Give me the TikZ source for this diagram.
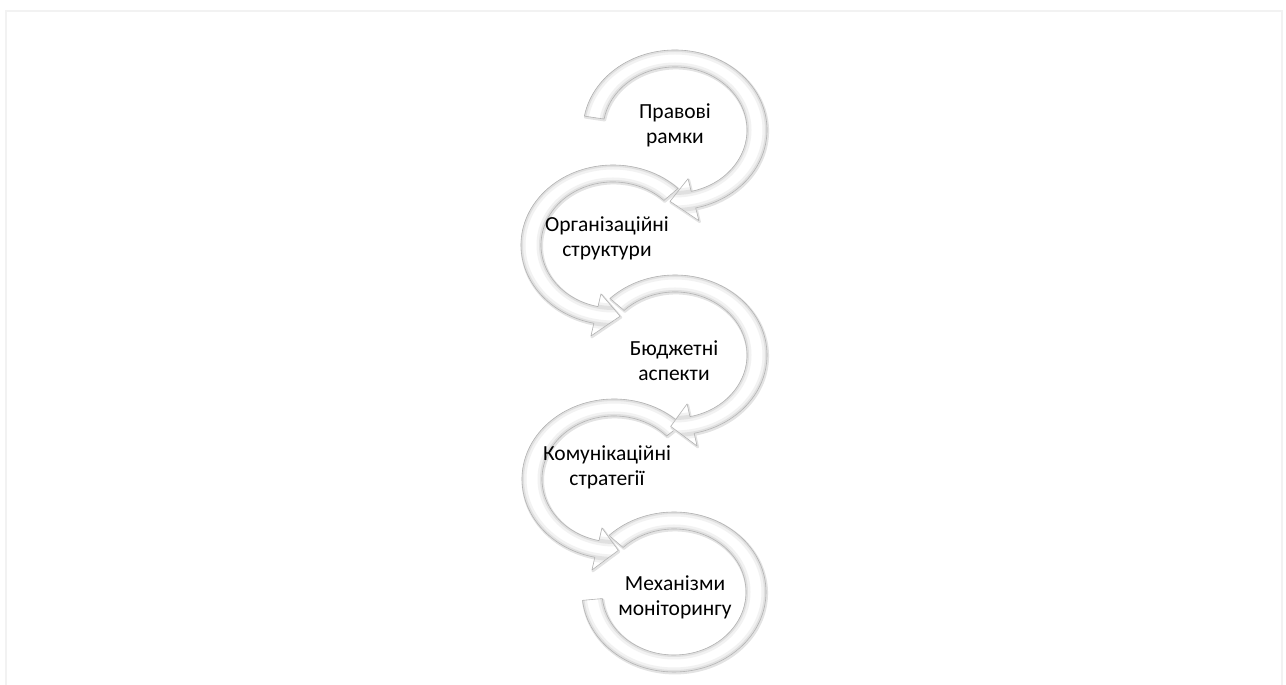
\documentclass[tikz,border=0pt]{standalone}
\usepackage{fontspec}
\setmainfont{Carlito}
\usetikzlibrary{calc}
\begin{document}
\begin{tikzpicture}[x=1pt,y=1pt,
	arrowband/.style={fill=white,draw=gray!60,line width=0.6pt,line join=round,
		preaction={draw=gray!22,line width=2.5pt,line join=round,transform canvas={xshift=0.8pt,yshift=-1.2pt}},
		path picture={
			\draw[gray!10,line width=9pt] #1 ellipse[x radius=92,y radius=80] #1 ellipse[x radius=72,y radius=63];
			\draw[gray!24,line width=4pt] #1 ellipse[x radius=92,y radius=80] #1 ellipse[x radius=72,y radius=63];}},
	steptext/.style={align=center,text=black,font=\fontsize{21.5}{25}\selectfont}]
	\useasboundingbox (0,0) rectangle (1286,685);
	\draw[gray!10,line width=2.3pt] (6.2,-2) -- (6.2,673.8) -- (1282,673.8) -- (1282,-2);
	% last circle first, so that every head lies over the next tail
	\draw[arrowband={(674,93)}] ($(674,93)+(135:92 and 80)$) arc[start angle=135,end angle=-174,x radius=92,y radius=80]
		-- ($(674,93)+(-174:72 and 63)$) arc[start angle=-174,end angle=135,x radius=72,y radius=63] -- cycle;
	% centre x / centre y / tail angle / head angle / tip angle
	\foreach \cx/\cy/\ta/\ha/\tip in {614/206/43/258/273, 675/330/135/-78/-93, 613/440/45/258/275, 675/555/170/-77/-93.5}{
		\draw[arrowband={(\cx,\cy)}] ($(\cx,\cy)+(\ta:92 and 80)$) arc[start angle=\ta,end angle=\ha,x radius=92,y radius=80]
			-- ($(\cx,\cy)+(\ha:106 and 93)$) -- ($(\cx,\cy)+(\tip:82 and 71.5)$) -- ($(\cx,\cy)+(\ha:58 and 50)$)
			-- ($(\cx,\cy)+(\ha:72 and 63)$) arc[start angle=\ha,end angle=\ta,x radius=72,y radius=63] -- cycle;
	}
	\node[steptext] (legal) at (675,560) {Правові\\рамки};
	\node[steptext] (org) at (607,447) {Організаційні\\структури};
	\node[steptext] (budget) at (674,324) {Бюджетні\\аспекти};
	\node[steptext] (comm) at (607,218) {Комунікаційні\\стратегії};
	\node[steptext] (monitor) at (675,88) {Механізми\\моніторингу};
\end{tikzpicture}
\end{document}
